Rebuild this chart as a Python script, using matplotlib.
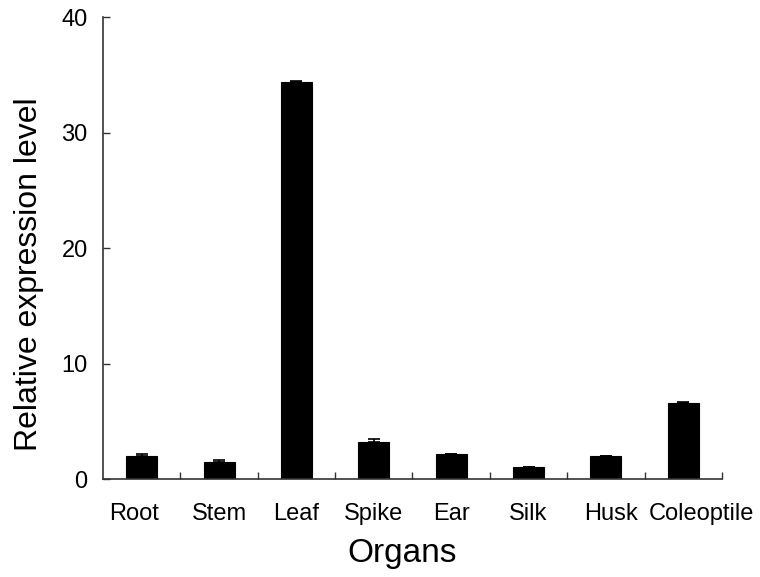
import matplotlib
matplotlib.use("Agg")
import matplotlib.pyplot as plt
import matplotlib.transforms as mtransforms
import numpy as np

organs = ["Root", "Stem", "Leaf", "Spike", "Ear", "Silk", "Husk", "Coleoptile"]
values = [2.04, 1.50, 34.37, 3.23, 2.19, 1.09, 2.04, 6.58]
errors = [0.14, 0.14, 0.12, 0.28, 0.0, 0.0, 0.0, 0.14]
yticks = [0, 10, 20, 30, 40]

plt.rcParams['font.family'] = ['Liberation Sans', 'DejaVu Sans']

fig = plt.figure(figsize=(7.6, 5.77), dpi=100)
ax = fig.add_axes([0.1355, 0.1693, 0.8145, 0.8012])

x = np.arange(len(organs))
ax.bar(x, values, width=0.4, color='black', edgecolor='black', linewidth=0.8, zorder=2)
ax.errorbar(x, values, yerr=[np.zeros(len(errors)), errors], fmt='none',
            ecolor='black', elinewidth=1.2, capsize=4, capthick=1.2, zorder=3)

ax.set_xlim(-0.5, len(organs) - 0.5)
ax.set_ylim(0, 40)
ax.set_yticks(yticks)
ax.set_yticklabels([str(t) for t in yticks], fontsize=17)
ax.set_xticks(x)
ax.set_xticklabels(organs, fontsize=17)
ax.set_xticks(np.arange(len(organs)) + 0.5, minor=True)
ax.tick_params(axis='x', which='major', length=0, pad=17)
ax.tick_params(axis='x', which='minor', direction='in', length=5, width=1, color='#333333')
ax.tick_params(axis='y', direction='in', length=5, width=1, color='#333333', pad=11)

# small horizontal nudges of individual tick labels (in pixels)
nudges = {"Root": -8, "Husk": 5, "Coleoptile": 18}
for lbl in ax.get_xticklabels():
    dx = nudges.get(lbl.get_text(), 0)
    if dx:
        lbl.set_transform(lbl.get_transform() +
                          mtransforms.ScaledTranslation(dx / 100, 0, fig.dpi_scale_trans))

for s in ['top', 'right']:
    ax.spines[s].set_visible(False)
for s in ['left', 'bottom']:
    ax.spines[s].set_color('#333333')
    ax.spines[s].set_linewidth(1.2)

ax.set_ylabel("Relative expression level", fontsize=23)
ax.yaxis.set_label_coords(-0.095, 0.444)
ax.set_xlabel("Organs", fontsize=24)
ax.xaxis.set_label_coords(0.483, -0.128)

fig.savefig("out.png", dpi=100)
